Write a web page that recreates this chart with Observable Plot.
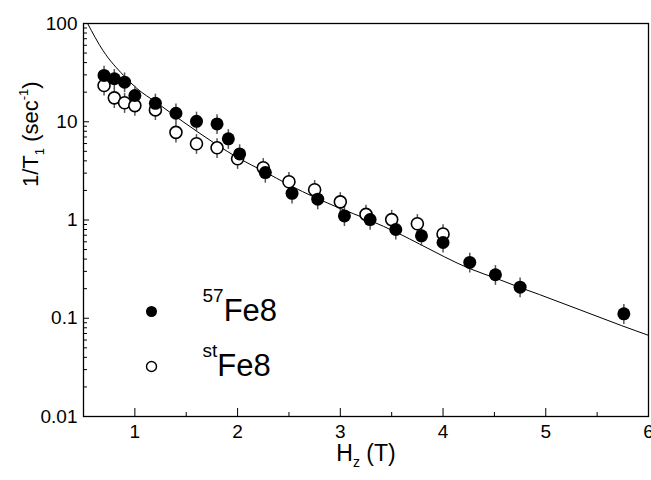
<!DOCTYPE html>
<html><head><meta charset="utf-8">
<script src="https://cdn.jsdelivr.net/npm/d3@7"></script>
<script src="https://cdn.jsdelivr.net/npm/@observablehq/plot@0.6"></script>
<style>
body{margin:0;background:#fff}
#chart svg{font-family:"Liberation Sans",Arial,sans-serif;display:block}
</style>
</head><body><div id="chart"></div>
<script>
// 57Fe8 (filled circles)
const fe57H = [0.70,0.80,0.90,1.00,1.20,1.40,1.60,1.80,1.91,2.02,2.27,2.53,2.78,3.04,3.29,3.54,3.79,4.00,4.26,4.51,4.75,5.76];
const fe57R = [29.6,27.4,25.3,18.5,15.4,12.2,10.1,9.5,6.7,4.7,3.04,1.87,1.63,1.10,1.01,0.80,0.69,0.59,0.37,0.277,0.207,0.111];
// stFe8 (open circles)
const stH = [0.70,0.80,0.90,1.00,1.20,1.40,1.60,1.80,2.00,2.25,2.50,2.75,3.00,3.25,3.50,3.75,4.00];
const stR = [23.4,17.5,15.6,14.6,13.2,7.8,5.97,5.43,4.2,3.40,2.45,2.03,1.53,1.14,1.01,0.915,0.72];
// fit curve
const fitH = [0.54,0.69,0.89,1.02,1.21,1.47,1.78,2.02,2.25,2.51,3.0,3.26,3.58,3.77,4.26,4.52,4.74,4.94,5.74,6.0];
const fitR = [100,53,29.6,21.8,15.7,10.0,6.0,4.2,3.15,2.25,1.31,1.02,0.72,0.57,0.32,0.254,0.207,0.174,0.084,0.067];
// error bar extent (multiplicative)
const errUp = 1.24, errDown = 0.78;

const xTicks = [1,2,3,4,5,6];
const xMinorTicks = [1.5,2.5,3.5,4.5,5.5];
const yTicks = [0.01,0.1,1,10,100];
const yTickLabels = ["0.01","0.1","1","10","100"];
const yMinorTicks = d3.range(-2,2).flatMap(e => d3.range(2,10).map(m => m * 10 ** e));

const xTitle = "Hz (T)";
const yTitle = "1/T1 (sec-1)";
const seriesNames = ["57Fe8","stFe8"];

const fe57 = fe57H.map((h,i) => ({h, r: fe57R[i]}));
const st = stH.map((h,i) => ({h, r: stR[i]}));
const fit = fitH.map((h,i) => ({h, r: fitR[i]}));

const chart = Plot.plot({
  width: 651, height: 480,
  marginLeft: 83, marginRight: 3, marginTop: 23, marginBottom: 64,
  x: {domain: [0.5, 6], label: null},
  y: {type: "log", domain: [0.01, 100], label: null},
  style: {fontFamily: '"Liberation Sans", Arial, sans-serif', fontSize: "19px", color: "black", background: "white"},
  marks: [
    Plot.line(fit, {x: "h", y: "r", curve: "monotone-x", stroke: "black", strokeWidth: 1, clip: true}),
    Plot.ruleX(st, {x: "h", y1: d => d.r * errDown, y2: d => d.r * errUp, stroke: "#555", strokeWidth: 1.5}),
    Plot.ruleX(fe57, {x: "h", y1: d => d.r * errDown, y2: d => d.r * errUp, stroke: "#555", strokeWidth: 1.5}),
    Plot.dot(st, {x: "h", y: "r", r: 6, fill: "white", stroke: "black", strokeWidth: 1.6}),
    Plot.dot(fe57, {x: "h", y: "r", r: 6.5, fill: "black"}),
    Plot.frame({stroke: "black", strokeWidth: 1.3}),
    Plot.axisX(xTicks, {tickSize: -8, tickPadding: 16, fontSize: 19, label: null}),
    Plot.axisX(xMinorTicks, {tickSize: -4, tickFormat: () => "", label: null}),
    Plot.axisY(yTicks, {tickSize: -6, tickPadding: 12, fontSize: 19, tickFormat: d => yTickLabels[yTicks.indexOf(d)], label: null}),
    Plot.axisY(yMinorTicks, {tickSize: -4, tickFormat: () => "", label: null}),
    Plot.text([xTitle], {frameAnchor: "bottom", dy: 37, fontSize: 23, lineAnchor: "middle"}),
    Plot.text([yTitle], {frameAnchor: "left", dx: -53, dy: -33, rotate: -90, fontSize: 22, lineAnchor: "middle"}),
    Plot.dot([seriesNames[0]], {frameAnchor: "bottom-left", dx: 68, dy: -105, r: 5.5, fill: "black"}),
    Plot.dot([seriesNames[1]], {frameAnchor: "bottom-left", dx: 68, dy: -50, r: 5, fill: "white", stroke: "black", strokeWidth: 1.4}),
    Plot.text([seriesNames[0]], {frameAnchor: "bottom-left", dx: 119, dy: -105, fontSize: 31, textAnchor: "start", lineAnchor: "middle"}),
    Plot.text([seriesNames[1]], {frameAnchor: "bottom-left", dx: 119, dy: -50, fontSize: 31, textAnchor: "start", lineAnchor: "middle"})
  ]
});
document.getElementById("chart").appendChild(chart);

// rich text (sub/superscripts) as real tspans
const rich = {
  "Hz (T)": [{t: "H"}, {t: "z", size: 14, shift: -6}, {t: " (T)"}],
  "1/T1 (sec-1)": [{t: "1/T"}, {t: "1", size: 13, shift: -6}, {t: " (sec"}, {t: "-1", size: 13, shift: 10}, {t: ")"}],
  "57Fe8": [{t: "57", size: 19, shift: 19}, {t: "Fe8"}],
  "stFe8": [{t: "st", size: 19, shift: 19}, {t: "Fe8"}]
};
d3.select(chart).selectAll("text").each(function() {
  const el = d3.select(this);
  const parts = rich[el.text()];
  if (!parts) return;
  el.text(null);
  for (const p of parts) {
    const ts = el.append("tspan").text(p.t);
    if (p.size) ts.attr("font-size", p.size);
    if (p.shift) ts.style("baseline-shift", p.shift + "px");
  }
});
</script>
</body></html>
